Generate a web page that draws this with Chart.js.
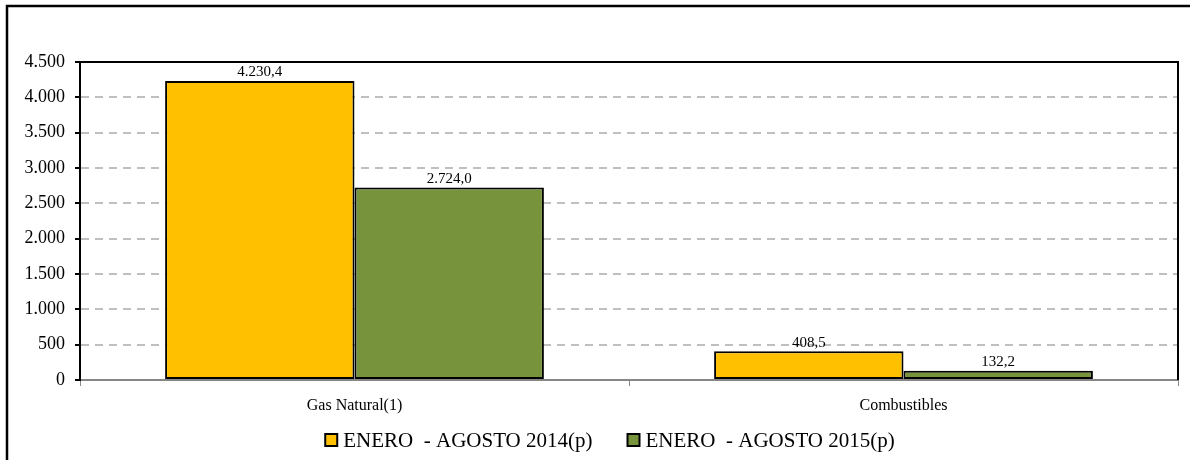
<!DOCTYPE html>
<html>
<head>
<meta charset="utf-8">
<script src="https://cdn.jsdelivr.net/npm/chart.js@4.4.1/dist/chart.umd.min.js"></script>
<style>
  html, body { margin: 0; padding: 0; background: #fff; }
  #wrap { width: 1190px; height: 460px; position: relative; }
</style>
</head>
<body>
<div id="wrap"><canvas id="c"></canvas></div>
<script>
// ── DATA ───────────────────────────────────────────────────────────────────
const categories = ["Gas Natural(1)", "Combustibles"];
const seriesNames = ["ENERO  - AGOSTO 2014(p)", "ENERO  - AGOSTO 2015(p)"];
const values2014 = [4230.4, 408.5];
const values2015 = [2724.0, 132.2];
const yTicks = [0, 500, 1000, 1500, 2000, 2500, 3000, 3500, 4000, 4500];

const serif = "'Liberation Serif', 'DejaVu Serif', serif";

// 4500 -> "4.500", 4230.4 -> "4.230,4"
function fmt(v, dec) {
  const parts = v.toFixed(dec).split(".");
  const int = parts[0].replace(/\B(?=(\d{3})+(?!\d))/g, ".");
  return parts[1] ? int + "," + parts[1] : int;
}

// value labels above each bar
const valueLabels = {
  id: "valueLabels",
  afterDatasetsDraw(chart) {
    const ctx = chart.ctx;
    ctx.save();
    ctx.font = "15px " + serif;
    ctx.fillStyle = "#000";
    ctx.textAlign = "center";
    ctx.textBaseline = "bottom";
    chart.data.datasets.forEach((ds, di) => {
      chart.getDatasetMeta(di).data.forEach((bar, i) => {
        ctx.fillText(fmt(ds.data[i], 1), bar.x, bar.y - 1);
      });
    });
    ctx.restore();
  },
};

// legend row under the axis (square swatch + series name)
const bottomLegend = {
  id: "bottomLegend",
  afterDraw(chart) {
    const ctx = chart.ctx;
    const box = 12, gap = 6, itemGap = 35, cy = 440, cx = 610;
    ctx.save();
    ctx.font = "21px " + serif;
    ctx.textBaseline = "middle";
    const items = chart.data.datasets.map(ds => ({ ds, w: box + gap + ctx.measureText(ds.label).width }));
    const total = items.reduce((s, it) => s + it.w, 0) + itemGap * (items.length - 1);
    let x = cx - total / 2;
    items.forEach(it => {
      ctx.fillStyle = it.ds.backgroundColor;
      ctx.strokeStyle = "#000";
      ctx.lineWidth = 2;
      ctx.fillRect(x, cy - box / 2, box, box);
      ctx.strokeRect(x, cy - box / 2, box, box);
      ctx.fillStyle = "#000";
      ctx.fillText(it.ds.label, x + box + gap, cy + 1);
      x += it.w + itemGap;
    });
    ctx.restore();
  },
};

// black frame on top/right of plot, plus outer chart border
const frame = {
  id: "frame",
  afterDraw(chart) {
    const { ctx, chartArea: a } = chart;
    ctx.save();
    ctx.strokeStyle = "#000";
    ctx.lineWidth = 2;
    ctx.beginPath();
    ctx.moveTo(a.left, a.top);
    ctx.lineTo(a.right, a.top);
    ctx.lineTo(a.right, a.bottom);
    ctx.stroke();
    ctx.lineWidth = 2.5;
    ctx.beginPath();
    ctx.moveTo(7, 460);
    ctx.lineTo(7, 6);
    ctx.lineTo(1190, 6);
    ctx.stroke();
    ctx.restore();
  },
};

new Chart(document.getElementById("c"), {
  type: "bar",
  data: {
    labels: categories,
    datasets: [
      { label: seriesNames[0], data: values2014, backgroundColor: "#FFC000", borderColor: "#000", borderWidth: 2, borderSkipped: false, categoryPercentage: 0.69, barPercentage: 1 },
      { label: seriesNames[1], data: values2015, backgroundColor: "#77933C", borderColor: "#000", borderWidth: 2, borderSkipped: false, categoryPercentage: 0.69, barPercentage: 1 },
    ],
  },
  options: {
    responsive: true, maintainAspectRatio: false, animation: false,
    layout: { padding: { left: 0, top: 62, right: 12, bottom: 40 } },
    plugins: {
      legend: { display: false },
      tooltip: { enabled: false },
    },
    scales: {
      x: {
        grid: { drawOnChartArea: false, drawTicks: true, tickLength: 6, color: "#868686", offset: true },
        border: { color: "#868686", width: 2 },
        ticks: { color: "#000", padding: 10, font: { family: serif, size: 16 } },
        afterFit: s => { s.height = 40; },
      },
      y: {
        min: 0, max: 4500,
        afterBuildTicks: s => { s.ticks = yTicks.map(v => ({ value: v })); },
        grid: { color: "#BFBFBF", lineWidth: 2, tickColor: "#000", tickLength: 5 },
        border: { color: "#000", width: 2, dash: [8, 6] },
        ticks: { color: "#000", padding: 10, font: { family: serif, size: 18 }, callback: v => fmt(v, 0) },
        afterFit: s => { s.width = 80; },
      },
    },
  },
  plugins: [valueLabels, bottomLegend, frame],
});
</script>
</body>
</html>
